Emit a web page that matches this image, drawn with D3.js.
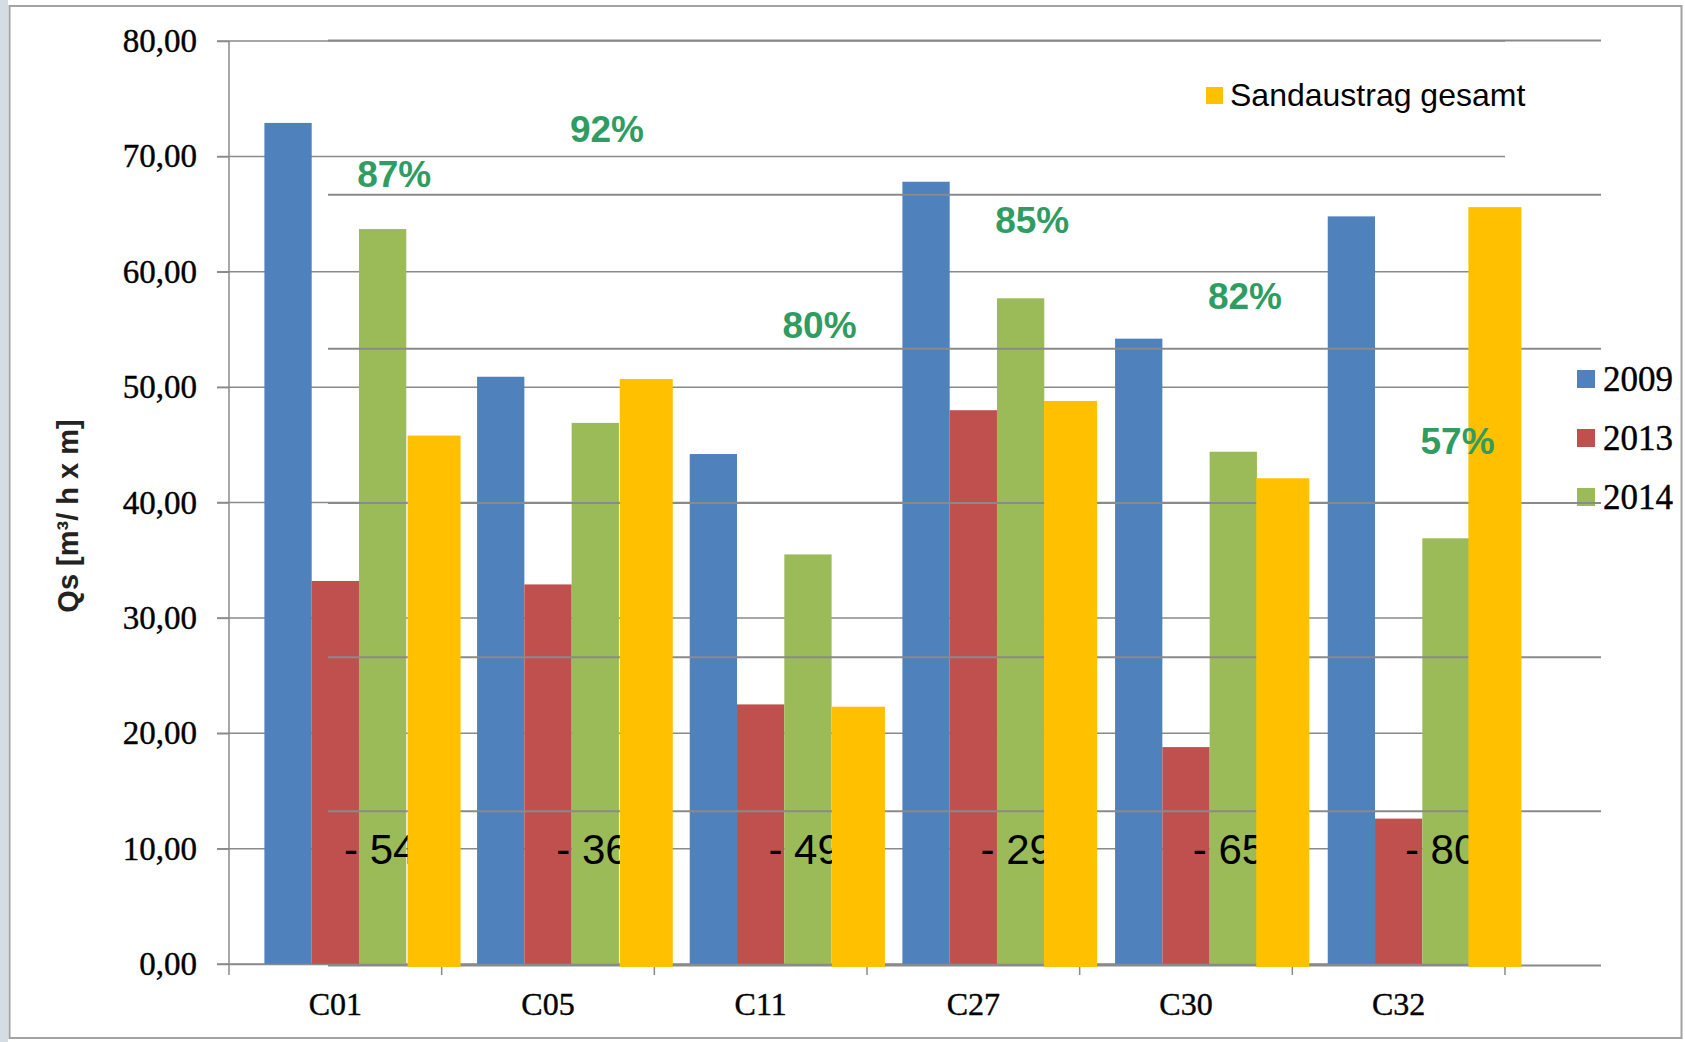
<!DOCTYPE html>
<html><head><meta charset="utf-8">
<script src="https://cdn.jsdelivr.net/npm/d3@7"></script>
<style>html,body{margin:0;padding:0;background:#fff;} svg{display:block}</style>
</head><body>
<svg id="chart" width="1685" height="1042"></svg>
<script>
// ---- data ----
const categories = ["C01", "C05", "C11", "C27", "C30", "C32"];
const years = ["2009", "2013", "2014"];
const values2009 = [72.9, 50.9, 44.2, 67.8, 54.2, 64.8];
const values2013 = [33.2, 32.9, 22.5, 48.0, 18.8, 12.6];
const values2014 = [63.7, 46.9, 35.5, 57.7, 44.4, 36.9];
const sandGesamt = [45.8, 50.7, 22.3, 48.8, 42.1, 65.6];
const sandLegend = "Sandaustrag gesamt";
const changeLabels = ["- 54%", "- 36%", "- 49%", "- 29%", "- 65%", "- 80%"];
const ratioLabels = ["87%", "92%", "80%", "85%", "82%", "57%"];
const ratioLabelLevel = [68.5, 72.4, 55.4, 64.5, 57.9, 45.3];
const changeLabelLevel = 10;
const yTicks = [0, 10, 20, 30, 40, 50, 60, 70, 80];
const yTickLabels = ["0,00", "10,00", "20,00", "30,00", "40,00", "50,00", "60,00", "70,00", "80,00"];
const yTitle = "Qs [m³/ h x m]";

const seriesValues = [values2009, values2013, values2014];
const colors = {"2009": "#4F81BD", "2013": "#C0504D", "2014": "#9BBB59"};
const yellow = "#FFC000";
const grid = "#8a8a8a";
const serif = "'Liberation Serif','Times New Roman',serif";
const sans = "'Liberation Sans',Arial,sans-serif";

const svg = d3.select("#chart");

// ---- frame ----
svg.append("rect").attr("x", 0).attr("y", 0).attr("width", 1685).attr("height", 1042).attr("fill", "#fff");
svg.append("rect").attr("x", 0).attr("y", 0).attr("width", 8).attr("height", 1042).attr("fill", "#d4dde3");
svg.append("rect").attr("x", 9.5).attr("y", 6).attr("width", 1672).attr("height", 1032)
  .attr("fill", "none").attr("stroke", "#a3a3a3").attr("stroke-width", 2);

// ---- main chart scales ----
const x0 = d3.scaleBand().domain(categories).range([229, 1505]).padding(0);
const x1 = d3.scaleBand().domain(years).range([35.4, x0.bandwidth() - 35.4]).padding(0);
const y = d3.scaleLinear().domain([0, 80]).range([964, 41]);

// gridlines
svg.append("g").selectAll("line").data(yTicks).join("line")
  .attr("x1", 217).attr("x2", 1505)
  .attr("y1", d => y(d)).attr("y2", d => y(d))
  .attr("stroke", grid).attr("stroke-width", 1.5);

// bars
const gBars = svg.append("g");
years.forEach((yr, si) => {
  gBars.append("g").selectAll("rect").data(categories).join("rect")
    .attr("x", c => x0(c) + x1(yr))
    .attr("width", x1.bandwidth())
    .attr("y", (c, i) => y(seriesValues[si][i]))
    .attr("height", (c, i) => y(0) - y(seriesValues[si][i]))
    .attr("fill", colors[yr]);
});

// axes
const yAxis = d3.axisLeft(y).tickValues(yTicks).tickSize(12).tickFormat((d, i) => yTickLabels[i]);
const gy = svg.append("g").attr("transform", "translate(229,0)").call(yAxis);
gy.select(".domain").attr("stroke", grid).attr("stroke-width", 1.5).attr("d", "M0,41V975");
gy.selectAll(".tick line").attr("stroke", grid).attr("stroke-width", 1.5);
gy.selectAll(".tick text").attr("x", -32).attr("dy", "0.32em")
  .attr("font-family", serif).attr("font-size", 33).attr("fill", "#000")
  .attr("stroke", "#000").attr("stroke-width", 0.4);

const xAxis = d3.axisBottom(x0).tickSize(0).tickFormat(d => d);
const gx = svg.append("g").attr("transform", "translate(0,964)").call(xAxis);
gx.select(".domain").attr("stroke", grid).attr("stroke-width", 1.5);
gx.selectAll(".tick text").attr("y", 51).attr("dy", 0)
  .attr("font-family", serif).attr("font-size", 32).attr("fill", "#000")
  .attr("stroke", "#000").attr("stroke-width", 0.4);
svg.append("g").selectAll("line").data(categories).join("line")
  .attr("x1", c => x0(c) + x0.bandwidth()).attr("x2", c => x0(c) + x0.bandwidth())
  .attr("y1", 964).attr("y2", 975).attr("stroke", grid).attr("stroke-width", 1.5);

// y title
svg.append("text").attr("transform", "translate(68,516) rotate(-90)")
  .attr("text-anchor", "middle").attr("dominant-baseline", "central")
  .attr("font-family", sans).attr("font-weight", "bold").attr("font-size", 29)
  .attr("fill", "#222").text(yTitle);

// main legend
const lg = svg.append("g").selectAll("g").data(years).join("g")
  .attr("transform", (d, i) => `translate(1577,${379 + i * 59})`);
lg.append("rect").attr("x", 0).attr("y", -9).attr("width", 18).attr("height", 18).attr("fill", d => colors[d]);
lg.append("text").attr("x", 26).attr("y", 12).attr("font-family", serif).attr("font-size", 35)
  .attr("fill", "#000").attr("stroke", "#000").attr("stroke-width", 0.4).text(d => d);

// ---- overlay chart ----
const xO = d3.scaleBand().domain(categories).range([328, 1601]).padding(0);
const yO = d3.scaleLinear().domain([0, 6]).range([965.5, 40.5]);

svg.append("g").selectAll("line").data(yO.ticks(6)).join("line")
  .attr("x1", 328).attr("x2", 1601)
  .attr("y1", d => yO(d)).attr("y2", d => yO(d))
  .attr("stroke", grid).attr("stroke-width", 2);

// change labels (partly hidden by yellow bars)
svg.append("g").selectAll("text").data(changeLabels).join("text")
  .attr("x", (d, i) => xO(categories[i]) + xO.bandwidth() / 2 - 90)
  .attr("y", y(changeLabelLevel) + 15)
  .attr("font-family", sans).attr("font-size", 42).attr("fill", "#000")
  .text(d => d);

const yw = xO.bandwidth() * 0.25;
svg.append("g").selectAll("rect").data(sandGesamt).join("rect")
  .attr("x", (d, i) => xO(categories[i]) + xO.bandwidth() / 2 - yw / 2)
  .attr("width", yw)
  .attr("y", d => y(d))
  .attr("height", d => 967 - y(d))
  .attr("fill", yellow);

// ratio labels
svg.append("g").selectAll("text").data(ratioLabels).join("text")
  .attr("x", (d, i) => x0(categories[i]) + x0.bandwidth() * 0.777)
  .attr("y", (d, i) => y(ratioLabelLevel[i]) + 13)
  .attr("text-anchor", "middle")
  .attr("font-family", sans).attr("font-weight", "bold").attr("font-size", 37)
  .attr("fill", "#2f9c62").text(d => d);

// overlay legend
svg.append("rect").attr("x", 1206).attr("y", 87).attr("width", 17).attr("height", 17).attr("fill", yellow);
svg.append("text").attr("x", 1230).attr("y", 106).attr("font-family", sans).attr("font-size", 32)
  .attr("fill", "#000").text(sandLegend);
</script>
</body></html>
